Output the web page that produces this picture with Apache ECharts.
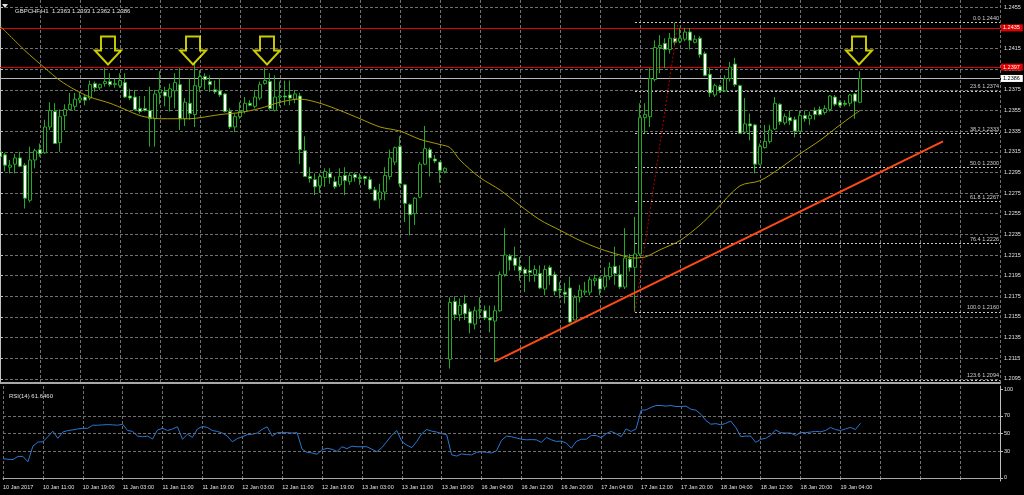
<!DOCTYPE html>
<html><head><meta charset="utf-8">
<script src="https://cdn.jsdelivr.net/npm/echarts@6/dist/echarts.min.js"></script>
<style>html,body{margin:0;padding:0;background:#000;}#c{width:1024px;height:495px;}</style>
</head><body><div id="c"></div>
<script>
const symbolName = 'GBPCHF,H1';
const opens = [1.2315,1.2312,1.2300,1.2303,1.2309,1.2302,1.2268,1.2307,1.2317,1.2314,
1.2339,1.2354,1.2324,1.2350,1.2356,1.2359,1.2365,1.2368,1.2367,1.2381,
1.2377,1.2381,1.2383,1.2380,1.2379,1.2382,1.2369,1.2368,1.2357,1.2357,
1.2355,1.2347,1.2372,1.2373,1.2368,1.2374,1.2380,1.2347,1.2362,1.2351,
1.2378,1.2388,1.2383,1.2375,1.2374,1.2371,1.2354,1.2339,1.2349,1.2354,
1.2362,1.2359,1.2367,1.2381,1.2383,1.2355,1.2368,1.2369,1.2370,1.2366,
1.2369,1.2316,1.2291,1.2288,1.2282,1.2290,1.2294,1.2286,1.2283,1.2292,
1.2286,1.2293,1.2290,1.2291,1.2288,1.2278,1.2269,1.2276,1.2291,1.2305,
1.2320,1.2283,1.2264,1.2255,1.2271,1.2303,1.2317,1.2308,1.2305,1.2296,
1.2114,1.2170,1.2157,1.2168,1.2160,1.2148,1.2161,1.2161,1.2154,1.2151,
1.2161,1.2196,1.2214,1.2212,1.2204,1.2201,1.2200,1.2196,1.2197,1.2182,
1.2203,1.2196,1.2182,1.2179,1.2183,1.2152,1.2174,1.2179,1.2179,1.2190,
1.2192,1.2184,1.2194,1.2204,1.2196,1.2184,1.2211,1.2203,1.2216,1.2348,
1.2349,1.2385,1.2416,1.2420,1.2414,1.2425,1.2422,1.2424,1.2431,1.2421,
1.2425,1.2410,1.2390,1.2370,1.2378,1.2374,1.2386,1.2400,1.2379,1.2334,
1.2342,1.2341,1.2303,1.2319,1.2325,1.2337,1.2361,1.2343,1.2348,1.2346,
1.2335,1.2350,1.2347,1.2355,1.2356,1.2353,1.2356,1.2368,1.2363,1.2362,
1.2362,1.2371,1.2363];
const highs = [1.2325,1.2314,1.2307,1.2313,1.2315,1.2304,1.2320,1.2318,1.2323,1.2346,
1.2363,1.2362,1.2356,1.2361,1.2372,1.2372,1.2373,1.2370,1.2384,1.2383,
1.2381,1.2396,1.2391,1.2386,1.2391,1.2391,1.2376,1.2375,1.2369,1.2369,
1.2378,1.2375,1.2393,1.2378,1.2381,1.2391,1.2396,1.2367,1.2386,1.2402,
1.2394,1.2391,1.2389,1.2384,1.2386,1.2372,1.2357,1.2352,1.2363,1.2368,
1.2365,1.2375,1.2383,1.2396,1.2391,1.2389,1.2383,1.2384,1.2384,1.2375,
1.2372,1.2330,1.2300,1.2294,1.2294,1.2299,1.2299,1.2291,1.2299,1.2300,
1.2295,1.2295,1.2294,1.2292,1.2291,1.2281,1.2284,1.2300,1.2317,1.2320,
1.2330,1.2284,1.2265,1.2271,1.2305,1.2340,1.2319,1.2312,1.2305,1.2300,
1.2174,1.2175,1.2173,1.2176,1.2163,1.2165,1.2174,1.2166,1.2166,1.2166,
1.2199,1.2241,1.2216,1.2223,1.2213,1.2203,1.2214,1.2205,1.2205,1.2205,
1.2205,1.2199,1.2189,1.2188,1.2194,1.2176,1.2186,1.2189,1.2194,1.2196,
1.2194,1.2203,1.2208,1.2223,1.2205,1.2241,1.2216,1.2252,1.2362,1.2362,
1.2396,1.2423,1.2428,1.2425,1.2430,1.2440,1.2435,1.2435,1.2435,1.2428,
1.2427,1.2412,1.2396,1.2381,1.2380,1.2389,1.2402,1.2406,1.2380,1.2367,
1.2352,1.2342,1.2323,1.2341,1.2341,1.2368,1.2362,1.2352,1.2355,1.2349,
1.2355,1.2355,1.2354,1.2358,1.2359,1.2360,1.2370,1.2370,1.2365,1.2365,
1.2371,1.2372,1.2393];
const lows = [1.2301,1.2296,1.2294,1.2294,1.2300,1.2260,1.2266,1.2299,1.2310,1.2313,
1.2336,1.2323,1.2315,1.2336,1.2355,1.2355,1.2362,1.2360,1.2365,1.2373,
1.2375,1.2378,1.2378,1.2377,1.2377,1.2367,1.2365,1.2355,1.2352,1.2354,
1.2320,1.2320,1.2361,1.2359,1.2354,1.2357,1.2336,1.2340,1.2346,1.2339,
1.2373,1.2375,1.2373,1.2371,1.2368,1.2353,1.2337,1.2334,1.2347,1.2352,
1.2359,1.2357,1.2365,1.2380,1.2355,1.2354,1.2359,1.2360,1.2360,1.2362,
1.2303,1.2291,1.2285,1.2273,1.2275,1.2281,1.2284,1.2279,1.2281,1.2273,
1.2283,1.2286,1.2283,1.2283,1.2278,1.2267,1.2260,1.2268,1.2288,1.2302,
1.2281,1.2247,1.2234,1.2244,1.2270,1.2302,1.2291,1.2304,1.2285,1.2294,
1.2105,1.2152,1.2151,1.2152,1.2139,1.2143,1.2153,1.2152,1.2140,1.2111,
1.2160,1.2194,1.2200,1.2200,1.2190,1.2179,1.2189,1.2189,1.2182,1.2176,
1.2186,1.2176,1.2173,1.2168,1.2149,1.2152,1.2169,1.2176,1.2176,1.2185,
1.2176,1.2181,1.2191,1.2186,1.2182,1.2182,1.2199,1.2160,1.2214,1.2333,
1.2339,1.2383,1.2391,1.2396,1.2410,1.2418,1.2420,1.2422,1.2414,1.2420,
1.2406,1.2388,1.2368,1.2368,1.2372,1.2373,1.2383,1.2378,1.2333,1.2333,
1.2326,1.2294,1.2302,1.2318,1.2323,1.2336,1.2341,1.2341,1.2341,1.2329,
1.2334,1.2344,1.2341,1.2346,1.2350,1.2351,1.2354,1.2359,1.2358,1.2359,
1.2359,1.2347,1.2362];
const closes = [1.2310,1.2302,1.2302,1.2309,1.2301,1.2270,1.2307,1.2316,1.2313,1.2339,
1.2355,1.2323,1.2349,1.2356,1.2361,1.2366,1.2367,1.2365,1.2380,1.2377,
1.2380,1.2383,1.2380,1.2381,1.2384,1.2368,1.2367,1.2356,1.2354,1.2355,
1.2347,1.2371,1.2375,1.2369,1.2376,1.2382,1.2347,1.2363,1.2352,1.2379,
1.2388,1.2385,1.2380,1.2373,1.2370,1.2354,1.2339,1.2349,1.2354,1.2362,
1.2360,1.2368,1.2380,1.2384,1.2357,1.2368,1.2369,1.2368,1.2367,1.2371,
1.2317,1.2291,1.2289,1.2281,1.2291,1.2296,1.2290,1.2281,1.2291,1.2287,
1.2292,1.2290,1.2289,1.2289,1.2279,1.2268,1.2276,1.2292,1.2309,1.2319,
1.2284,1.2265,1.2254,1.2270,1.2303,1.2318,1.2309,1.2306,1.2297,1.2299,
1.2169,1.2157,1.2166,1.2158,1.2149,1.2161,1.2162,1.2154,1.2152,1.2161,
1.2196,1.2215,1.2210,1.2205,1.2200,1.2197,1.2198,1.2201,1.2183,1.2201,
1.2195,1.2180,1.2181,1.2177,1.2150,1.2174,1.2181,1.2180,1.2191,1.2192,
1.2182,1.2194,1.2203,1.2197,1.2184,1.2212,1.2203,1.2216,1.2348,1.2351,
1.2386,1.2416,1.2418,1.2414,1.2425,1.2421,1.2425,1.2431,1.2423,1.2424,
1.2409,1.2389,1.2372,1.2379,1.2374,1.2386,1.2397,1.2380,1.2333,1.2342,
1.2340,1.2303,1.2320,1.2325,1.2336,1.2362,1.2344,1.2349,1.2345,1.2335,
1.2350,1.2347,1.2350,1.2351,1.2351,1.2357,1.2369,1.2361,1.2360,1.2361,
1.2370,1.2364,1.2386];
const rsiValues = [21.8,21.1,20.8,24.3,24.3,18.3,35.9,40.5,40.8,46.5,
52.8,44.7,51.8,53.5,54.2,55.3,56.0,56.0,59.5,59.5,
59.9,60.2,59.9,59.5,60.6,53.5,52.5,47.2,46.5,47.2,
44.0,54.2,56.0,53.5,55.3,57.7,43.7,49.3,45.8,55.3,
58.1,57.0,53.5,52.5,50.7,47.2,40.8,44.4,46.5,48.9,
49.3,50.7,54.9,57.7,47.2,51.1,51.1,51.1,50.7,51.1,
32.4,28.9,28.2,26.8,31.7,33.5,32.4,29.9,35.2,33.1,
35.9,35.2,35.2,35.2,32.4,29.6,34.2,41.2,48.2,53.5,
41.2,37.0,34.2,41.2,50.0,54.6,52.8,51.8,50.0,48.9,
26.1,24.7,27.1,26.4,26.1,28.9,29.6,28.9,28.2,30.6,
42.5,47.2,46.5,45.1,43.7,43.0,43.3,43.0,40.1,45.8,
43.0,41.2,41.6,39.4,33.5,41.2,43.7,43.7,47.9,47.9,
45.4,50.0,52.5,50.0,46.5,55.3,52.5,55.3,76.4,76.8,
79.6,81.7,81.7,81.0,81.7,80.6,80.6,81.0,77.5,76.4,
71.8,64.8,60.6,61.3,59.9,61.6,64.1,57.0,46.5,47.2,
47.2,40.1,43.7,44.7,48.2,54.2,51.1,50.7,50.7,47.9,
51.4,51.1,51.8,52.5,52.1,53.5,57.0,54.6,53.5,55.3,
57.0,54.6,61.6];
const rsiLast = '61.6460';
const maPoints = [[0,1.2437],[5,1.2413],[9,1.2396],[12,1.2384],[15,1.2375],[18,1.2368],[22,1.2362],[25,1.2356],[28,1.2350],[30,1.2348],[32,1.2347],[38,1.2347],[40,1.2348],[44,1.2351],[48,1.2353],[52,1.2357],[56,1.2363],[60,1.2366],[64,1.2362],[68,1.2355],[72,1.2347],[76,1.2339],[80,1.2335],[84,1.2327],[88,1.2322],[90,1.2319],[92,1.2307],[96,1.2290],[100,1.2278],[104,1.2263],[108,1.2249],[112,1.2239],[116,1.2229],[120,1.2221],[124,1.2215],[127,1.2212],[129,1.2213],[130,1.2215],[132,1.2220],[136,1.2229],[140,1.2244],[143,1.2258],[148,1.2282],[152,1.2287],[156,1.2299],[160,1.2313],[164,1.2326],[168,1.2341],[172,1.2355]];
const tickLabels = ['10 Jan 2017','10 Jan 11:00','10 Jan 19:00','11 Jan 03:00','11 Jan 11:00','11 Jan 19:00','12 Jan 03:00','12 Jan 11:00','12 Jan 19:00','13 Jan 03:00','13 Jan 11:00','13 Jan 19:00','16 Jan 04:00','16 Jan 12:00','16 Jan 20:00','17 Jan 04:00','17 Jan 12:00','17 Jan 20:00','18 Jan 04:00','18 Jan 12:00','18 Jan 20:00','19 Jan 04:00'];
const priceTicks = [1.2095,1.2115,1.2135,1.2155,1.2175,1.2195,1.2215,1.2235,1.2255,1.2275,1.2295,1.2315,1.2335,1.2355,1.2375,1.2395,1.2415,1.2435,1.2455];
const rsiTicks = [0,30,50,70,100];
const rsiLevels = [30,50,70];
const fibLevels = [['0.0',1.2440],['23.6',1.2374],['38.2',1.2333],['50.0',1.2300],['61.8',1.2267],['76.4',1.2226],['100.0',1.2160],['123.6',1.2094]];
const fibStartBar = 127;
const redLevels = [1.2435,1.2397];
const bidPrice = 1.2386;
const trendLine = [[99,1.2112],[188.6,1.2325]];
const fibDiagonal = [[127,1.2160],[135.6,1.2440]];
const arrowBars = [21.6,38.6,53.4,171.8];
const arrowPrice = 1.2413;
const SLOTS = 201;

const FONT = 'Liberation Sans';
const GRIDC = '#707070';
const GREEN = '#22aa22';
const cats = Array.from({length: SLOTS}, (_, i) => String(i));
const candles = opens.map((o, i) => [o, closes[i], lows[i], highs[i]]);
const fmtX = (v) => { const i = +v; return (i % 8 === 0 && i / 8 < tickLabels.length) ? tickLabels[i / 8] : ''; };
const arrowPath = 'path://M6,0 L20,0 L20,14 L26,14 L13,28 L0,14 L6,14 Z';

const chart = echarts.init(document.getElementById('c'), null, {renderer: 'canvas'});
const fibMark = fibLevels.map(([pct, lvl]) => [
  {coord: [fibStartBar, lvl], label: {formatter: pct + ' ' + lvl.toFixed(4)}},
  {coord: [SLOTS - 1, lvl]}
]);
chart.setOption({
  backgroundColor: '#000000',
  animation: false,
  textStyle: {fontFamily: FONT},
  title: [
    {text: symbolName + '  ' + [opens[172], highs[172], lows[172], closes[172]].map(v => v.toFixed(4)).join(' '),
     left: 10, top: 3, textStyle: {color: '#e0e0e0', fontSize: 6, fontWeight: 'normal', fontFamily: FONT}},
    {text: 'RSI(14) ' + rsiLast, left: 4, top: 388, textStyle: {color: '#e0e0e0', fontSize: 6, fontWeight: 'normal', fontFamily: FONT}}
  ],
  graphic: [{type: 'polygon', shape: {points: [[2, 4], [8, 4], [5, 8]]}, style: {fill: '#e0e0e0'}}],
  grid: [
    {left: 0, top: 0, width: 1000, height: 383},
    {left: 0, top: 386, width: 1000, height: 95}
  ],
  xAxis: [
    {type: 'category', gridIndex: 0, data: cats, boundaryGap: false,
     axisLine: {show: true, lineStyle: {color: '#a8a8a8', width: 2}},
     axisTick: {show: false}, axisLabel: {show: false, interval: 7},
     splitLine: {show: true, interval: 7, lineStyle: {color: GRIDC, type: [3, 2], width: 1}}},
    {type: 'category', gridIndex: 1, data: cats, boundaryGap: false,
     axisLine: {show: true, lineStyle: {color: '#a8a8a8', width: 1}},
     axisTick: {show: true, interval: 7, length: 2, lineStyle: {color: '#a8a8a8'}},
     axisLabel: {show: true, interval: 7, formatter: fmtX, align: 'left', color: '#e0e0e0', fontSize: 5.5, margin: 3, fontFamily: FONT},
     splitLine: {show: true, interval: 7, lineStyle: {color: GRIDC, type: [3, 2], width: 1}}},
    {type: 'value', gridIndex: 0, min: 0, max: SLOTS - 1, show: false}
  ],
  yAxis: [
    {type: 'value', gridIndex: 0, position: 'right', min: 1.2091, max: 1.2462, scale: true,
     axisLine: {show: true, lineStyle: {color: '#c0c0c0'}},
     axisTick: {show: true, customValues: priceTicks, length: 3, lineStyle: {color: '#c0c0c0'}},
     axisLabel: {show: true, customValues: priceTicks, formatter: v => v.toFixed(4), color: '#e0e0e0', fontSize: 5.5, margin: 4, fontFamily: FONT},
     splitLine: {show: true, lineStyle: {color: GRIDC, type: [3, 2], width: 1}}},
    {type: 'value', gridIndex: 1, position: 'right', min: -3.4, max: 103.7,
     axisLine: {show: true, lineStyle: {color: '#c0c0c0'}},
     axisTick: {show: true, customValues: rsiTicks, length: 3, lineStyle: {color: '#c0c0c0'}},
     axisLabel: {show: true, customValues: rsiTicks, color: '#e0e0e0', fontSize: 5.5, margin: 4, fontFamily: FONT},
     splitLine: {show: false}}
  ],
  series: [
    {type: 'candlestick', xAxisIndex: 0, yAxisIndex: 0, data: candles, barWidth: 3, z: 3,
     itemStyle: {color: '#000000', color0: '#ffffff', borderColor: GREEN, borderColor0: GREEN, borderWidth: 1}},
    {type: 'line', xAxisIndex: 2, yAxisIndex: 0, data: maPoints, smooth: 0.3, showSymbol: false, z: 4,
     lineStyle: {color: '#a89c00', width: 1}},
    {type: 'line', xAxisIndex: 2, yAxisIndex: 0, data: fibDiagonal, showSymbol: false, z: 4,
     lineStyle: {color: '#b00000', width: 1, type: [2, 2]}},
    {type: 'line', xAxisIndex: 2, yAxisIndex: 0, data: trendLine, showSymbol: false, z: 5,
     lineStyle: {color: '#ff4a14', width: 2},
     markLine: {silent: true, symbol: 'none', z: 2, animation: false, precision: 4,
       data: [
         ...redLevels.map(v => ({yAxis: v, lineStyle: {color: '#e00000', width: 1, type: 'solid'},
            label: {show: true, position: 'end', distance: 1, formatter: v.toFixed(4), color: '#ffffff', backgroundColor: '#e00000', padding: [1, 3, 0, 2], fontSize: 5.5, fontFamily: FONT}})),
         {yAxis: bidPrice, lineStyle: {color: '#b8b8b8', width: 1, type: 'solid'},
            label: {show: true, position: 'end', distance: 1, formatter: bidPrice.toFixed(4), color: '#000000', backgroundColor: '#ffffff', padding: [1, 3, 0, 2], fontSize: 5.5, fontFamily: FONT}},
         ...fibMark
       ],
       lineStyle: {color: '#c8c8c8', width: 1, type: [2, 2]},
       label: {show: true, position: 'insideEndTop', distance: [1, 1], color: '#d0d0d0', fontSize: 5.5, fontFamily: FONT}}},
    {type: 'scatter', xAxisIndex: 2, yAxisIndex: 0, data: arrowBars.map(b => [b, arrowPrice]), z: 6,
     symbol: arrowPath, symbolSize: [26, 28], symbolKeepAspect: false,
     itemStyle: {color: 'rgba(0,0,0,0)', borderColor: '#ffff00', borderWidth: 2}},
    {type: 'line', xAxisIndex: 1, yAxisIndex: 1, data: rsiValues, showSymbol: false, z: 4,
     lineStyle: {color: '#2a76d2', width: 1},
     markLine: {silent: true, symbol: 'none', label: {show: false}, precision: 2,
       lineStyle: {color: GRIDC, type: [3, 2], width: 1},
       data: rsiLevels.map(v => ({yAxis: v}))}}
  ]
});
</script></body></html>
